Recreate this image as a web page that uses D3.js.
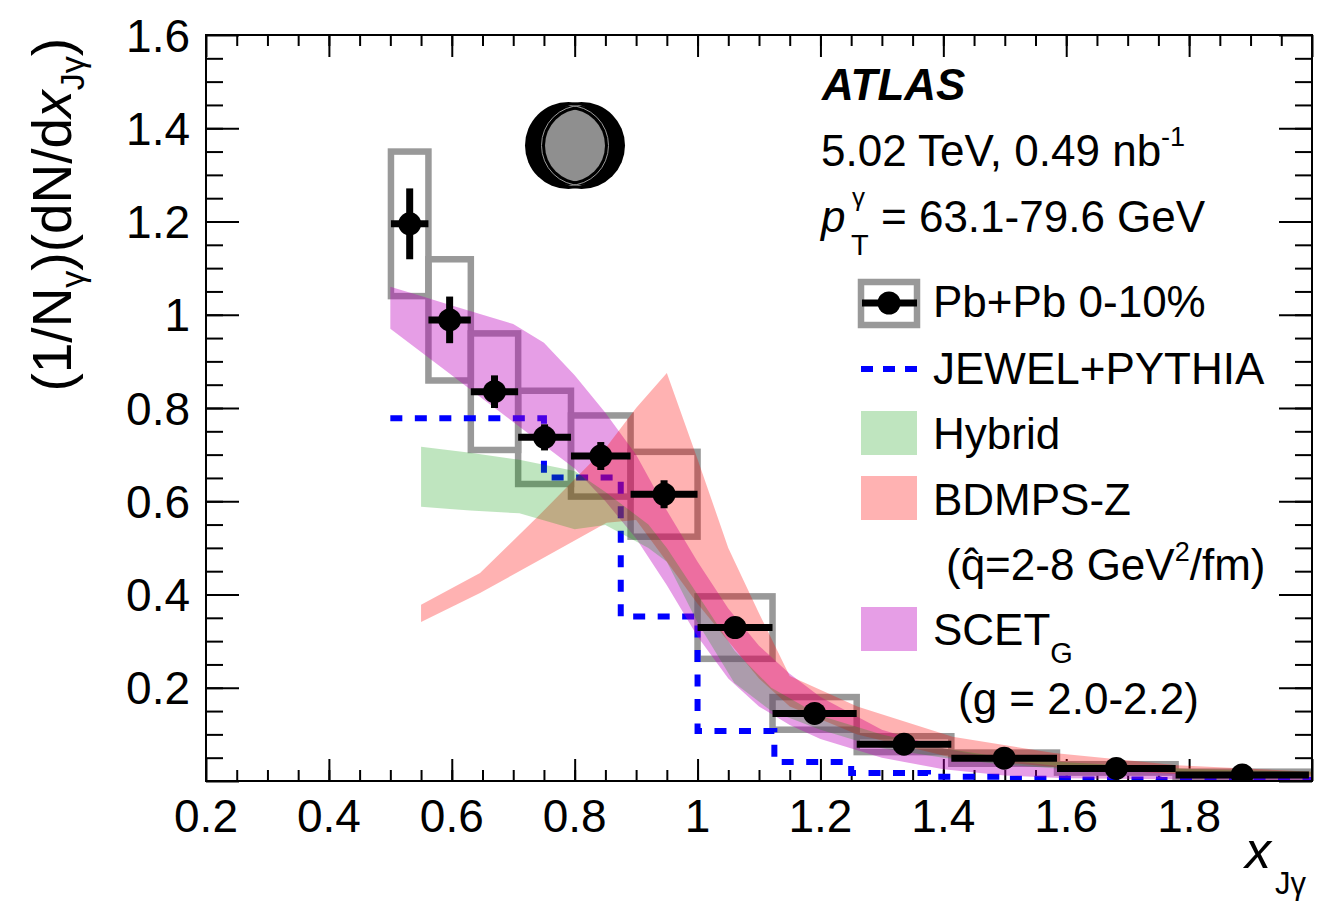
<!DOCTYPE html>
<html>
<head>
<meta charset="utf-8">
<script src="https://cdn.jsdelivr.net/npm/d3@7"></script>
<style>
  body { margin: 0; background: #fff; }
  text { font-family: "Liberation Sans", Arial, Helvetica, sans-serif; fill: #000; }
</style>
</head>
<body>
<div id="my_dataviz"></div>
<script>
// ---- data ----
// Pb+Pb 0-10% (log-spaced x_Jgamma bins)
var binEdges = [0.501, 0.562, 0.631, 0.708, 0.794, 0.891, 1.0, 1.122, 1.259, 1.413, 1.585, 1.778, 1.995];
var pbpbVals = [1.195, 0.989, 0.835, 0.737, 0.697, 0.615, 0.329, 0.145, 0.079, 0.049, 0.027, 0.013];
var pbpbStat = [0.076, 0.050, 0.035, 0.028, 0.030, 0.030, 0.020, 0.010, 0.005, 0.004, 0.003, 0.002];
var pbpbSyst = [0.155, 0.130, 0.125, 0.100, 0.087, 0.091, 0.067, 0.035, 0.017, 0.012, 0.009, 0.007];

// JEWEL+PYTHIA histogram
var jewelEdges = [0.5, 0.625, 0.75, 0.875, 1.0, 1.125, 1.25, 1.375, 1.5, 1.625, 1.75, 1.875, 2.0];
var jewelVals  = [0.778, 0.778, 0.651, 0.353, 0.107, 0.041, 0.017, 0.009, 0.005, 0.003, 0.002, 0.002];

// Hybrid band
var hybridX  = [0.55, 0.63, 0.71, 0.80, 0.85, 0.92, 0.95, 1.00, 1.06, 1.12, 1.20, 1.30, 1.40, 1.50, 1.60, 1.80, 2.00];
var hybridHi = [0.717, 0.704, 0.689, 0.665, 0.62, 0.55, 0.50, 0.40, 0.28, 0.20, 0.14, 0.10, 0.07, 0.05, 0.04, 0.026, 0.02];
var hybridLo = [0.588, 0.580, 0.574, 0.540, 0.549, 0.50, 0.47, 0.34, 0.21, 0.15, 0.11, 0.07, 0.05, 0.035, 0.025, 0.018, 0.014];

// BDMPS-Z band
var bdmpsX  = [0.55, 0.646, 0.743, 0.852, 0.90, 0.95, 1.00, 1.05, 1.10, 1.15, 1.26, 1.415, 1.58, 1.78, 2.00];
var bdmpsHi = [0.378, 0.446, 0.571, 0.717, 0.80, 0.875, 0.69, 0.50, 0.36, 0.225, 0.16, 0.095, 0.06, 0.034, 0.02];
var bdmpsLo = [0.341, 0.403, 0.474, 0.554, 0.56, 0.47, 0.38, 0.30, 0.22, 0.16, 0.10, 0.05, 0.03, 0.015, 0.01];

// SCET_G band
var scetX  = [0.50, 0.55, 0.60, 0.65, 0.70, 0.75, 0.80, 0.85, 0.90, 0.95, 1.00, 1.05, 1.10, 1.15, 1.20, 1.30, 1.40, 1.50, 1.60, 1.80, 2.00];
var scetHi = [1.06, 1.04, 1.02, 1.00, 0.98, 0.94, 0.87, 0.79, 0.70, 0.58, 0.47, 0.37, 0.29, 0.23, 0.18, 0.11, 0.07, 0.045, 0.03, 0.015, 0.008];
var scetLo = [0.97, 0.92, 0.87, 0.82, 0.77, 0.72, 0.67, 0.60, 0.52, 0.42, 0.31, 0.22, 0.16, 0.12, 0.09, 0.05, 0.025, 0.012, 0.006, 0.003, 0.002];

// tick labels
var xTickVals = [0.2, 0.4, 0.6, 0.8, 1.0, 1.2, 1.4, 1.6, 1.8];
var xTickLabels = ["0.2", "0.4", "0.6", "0.8", "1", "1.2", "1.4", "1.6", "1.8"];
var yTickVals = [0.2, 0.4, 0.6, 0.8, 1.0, 1.2, 1.4, 1.6];
var yTickLabels = ["0.2", "0.4", "0.6", "0.8", "1", "1.2", "1.4", "1.6"];

// colours
var cGreen = "rgb(0,150,0)", aGreen = 0.25;
var cRed = "rgb(255,0,0)", aRed = 0.30;
var cMag = "rgb(190,0,190)", aMag = 0.38;

// set the dimensions and margins of the graph
var margin = {top: 35, right: 7, bottom: 127, left: 206},
    width = 1319 - margin.left - margin.right,
    height = 908 - margin.top - margin.bottom;

var svg = d3.select("#my_dataviz")
  .append("svg")
    .attr("width", 1319)
    .attr("height", 908);

var g = svg.append("g")
    .attr("transform", "translate(" + margin.left + "," + margin.top + ")");

var x = d3.scaleLinear().domain([0.2, 2.0]).range([0, width]);
var y = d3.scaleLinear().domain([0, 1.6]).range([height, 0]);

g.append("clipPath").attr("id", "plotclip")
  .append("rect").attr("width", width).attr("height", height);

// ticks on all four sides, pointing inward
var majorX = d3.range(0.2, 2.001, 0.2), minorX = d3.range(0.25, 2.0, 0.05);
var majorY = d3.range(0, 1.601, 0.2), minorY = d3.range(0.05, 1.6, 0.05);
function ticks(axis, tr, vals, len) {
  g.append("g").attr("transform", tr)
    .call(axis.tickValues(vals).tickSize(-len).tickFormat(""))
    .call(function(s) { s.select(".domain").remove(); s.selectAll("line").attr("stroke", "#000").attr("stroke-width", 2); });
}
ticks(d3.axisBottom(x), "translate(0," + height + ")", minorX, 11);
ticks(d3.axisBottom(x), "translate(0," + height + ")", majorX, 22);
ticks(d3.axisTop(x), "translate(0,0)", minorX, 11);
ticks(d3.axisTop(x), "translate(0,0)", majorX, 22);
ticks(d3.axisLeft(y), "translate(0,0)", minorY, 17);
ticks(d3.axisLeft(y), "translate(0,0)", majorY, 33);
ticks(d3.axisRight(y), "translate(" + width + ",0)", minorY, 17);
ticks(d3.axisRight(y), "translate(" + width + ",0)", majorY, 33);

// tick labels
g.selectAll(".xlab").data(xTickVals).enter().append("text")
  .attr("x", function(d) { return x(d); })
  .attr("y", height + 51)
  .attr("text-anchor", "middle")
  .style("font-size", "46px")
  .text(function(d, i) { return xTickLabels[i]; });
g.selectAll(".ylab").data(yTickVals).enter().append("text")
  .attr("x", -16)
  .attr("y", function(d) { return y(d); })
  .attr("dy", "0.36em")
  .attr("text-anchor", "end")
  .style("font-size", "46px")
  .text(function(d, i) { return yTickLabels[i]; });

var plot = g.append("g").attr("clip-path", "url(#plotclip)");

// systematic boxes
var pts = pbpbVals.map(function(v, i) {
  return {lo: binEdges[i], hi: binEdges[i + 1], xc: (binEdges[i] + binEdges[i + 1]) / 2,
          v: v, st: pbpbStat[i], sy: pbpbSyst[i]};
});
plot.selectAll(".sys").data(pts).enter().append("rect")
  .attr("x", function(d) { return x(d.lo); })
  .attr("width", function(d) { return x(d.hi) - x(d.lo); })
  .attr("y", function(d) { return y(d.v + d.sy); })
  .attr("height", function(d) { return y(d.v - d.sy) - y(d.v + d.sy); })
  .attr("fill", "none")
  .attr("stroke", "#999")
  .attr("stroke-width", 6.5);

// JEWEL+PYTHIA dashed histogram
var jewelPts = [];
jewelVals.forEach(function(v, i) {
  jewelPts.push([jewelEdges[i], v]);
  jewelPts.push([jewelEdges[i + 1], v]);
});
plot.append("path")
  .datum(jewelPts)
  .attr("d", d3.line().x(function(d) { return x(d[0]); }).y(function(d) { return y(d[1]); }))
  .attr("fill", "none")
  .attr("stroke", "#0000ff")
  .attr("stroke-width", 6)
  .attr("stroke-dasharray", "12,12.5");

// theory bands
function band(xs, lo, hi, col, op) {
  var data = xs.map(function(d, i) { return {x: d, lo: lo[i], hi: hi[i]}; });
  plot.append("path")
    .datum(data)
    .attr("d", d3.area()
      .x(function(d) { return x(d.x); })
      .y0(function(d) { return y(d.lo); })
      .y1(function(d) { return y(d.hi); }))
    .attr("fill", col)
    .attr("fill-opacity", op);
}
band(scetX, scetLo, scetHi, cMag, aMag);
band(bdmpsX, bdmpsLo, bdmpsHi, cRed, aRed);
band(hybridX, hybridLo, hybridHi, cGreen, aGreen);

// data points with stat errors
var pg = plot.selectAll(".pt").data(pts).enter().append("g");
pg.append("line")
  .attr("x1", function(d) { return x(d.lo); })
  .attr("x2", function(d) { return x(d.hi); })
  .attr("y1", function(d) { return y(d.v); })
  .attr("y2", function(d) { return y(d.v); })
  .attr("stroke", "#000").attr("stroke-width", 7);
pg.append("line")
  .attr("x1", function(d) { return x(d.xc); })
  .attr("x2", function(d) { return x(d.xc); })
  .attr("y1", function(d) { return y(d.v + d.st); })
  .attr("y2", function(d) { return y(d.v - d.st); })
  .attr("stroke", "#000").attr("stroke-width", 7);
pg.append("circle")
  .attr("cx", function(d) { return x(d.xc); })
  .attr("cy", function(d) { return y(d.v); })
  .attr("r", 11.5)
  .attr("fill", "#000");

// frame
g.append("rect")
  .attr("width", width).attr("height", height)
  .attr("fill", "none").attr("stroke", "#000").attr("stroke-width", 2);

// axis titles
var xt = svg.append("text")
  .attr("x", 1306).attr("y", 868)
  .attr("text-anchor", "end")
  .style("font-size", "52px");
xt.append("tspan").style("font-style", "italic").text("x");
xt.append("tspan").attr("dy", 26).attr("dx", 4).style("font-size", "31px").text("Jγ");

var yt = svg.append("text")
  .attr("transform", "translate(71,38) rotate(-90)")
  .attr("text-anchor", "end")
  .style("font-size", "55px");
yt.append("tspan").text("(1/N");
yt.append("tspan").attr("dy", 13).style("font-size", "34px").text("γ");
yt.append("tspan").attr("dy", -13).text(")(dN/d");
yt.append("tspan").style("font-style", "italic").text("x");
yt.append("tspan").attr("dy", 13).style("font-size", "34px").text("Jγ");
yt.append("tspan").attr("dy", -13).text(")");

// ATLAS label and run info
svg.append("text").attr("x", 822).attr("y", 100)
  .style("font-size", "44px").style("font-weight", "bold").style("font-style", "italic")
  .text("ATLAS");
var t1 = svg.append("text").attr("x", 821).attr("y", 166).style("font-size", "44px");
t1.append("tspan").text("5.02 TeV, 0.49 nb");
t1.append("tspan").attr("dy", -20).style("font-size", "27px").text("-1");

svg.append("text").attr("x", 821).attr("y", 232).style("font-size", "44px")
  .style("font-style", "italic").text("p");
svg.append("text").attr("x", 852).attr("y", 206).style("font-size", "26px").text("γ");
svg.append("text").attr("x", 851).attr("y", 255).style("font-size", "29px").text("T");
svg.append("text").attr("x", 881).attr("y", 232).style("font-size", "44px").text("= 63.1-79.6 GeV");

// collision symbol
var sym = svg.append("g");
var cxs = [568.5, 581.5];
var defs = svg.append("defs");
defs.append("clipPath").attr("id", "lensA").append("circle").attr("cx", cxs[0]).attr("cy", 145.5).attr("r", 36.5);
defs.append("clipPath").attr("id", "lensA2").append("circle").attr("cx", cxs[0]).attr("cy", 145.5).attr("r", 42);
defs.append("clipPath").attr("id", "lensB2").append("circle").attr("cx", cxs[1]).attr("cy", 145.5).attr("r", 42);
cxs.forEach(function(c) {
  sym.append("circle").attr("cx", c).attr("cy", 145.5).attr("r", 43.5).attr("fill", "#000");
});
sym.append("circle").attr("cx", cxs[1]).attr("cy", 145.5).attr("r", 36.5)
  .attr("fill", "#8f8f8f").attr("clip-path", "url(#lensA)");
sym.append("circle").attr("cx", cxs[1]).attr("cy", 145.5).attr("r", 40)
  .attr("fill", "none").attr("stroke", "#999").attr("stroke-width", 1)
  .attr("clip-path", "url(#lensA2)");
sym.append("circle").attr("cx", cxs[0]).attr("cy", 145.5).attr("r", 40)
  .attr("fill", "none").attr("stroke", "#999").attr("stroke-width", 1)
  .attr("clip-path", "url(#lensB2)");

// legend
var lg = svg.append("g");
lg.append("rect").attr("x", 861).attr("y", 282).attr("width", 56).attr("height", 43)
  .attr("fill", "none").attr("stroke", "#999").attr("stroke-width", 6.5);
lg.append("line").attr("x1", 862).attr("x2", 917).attr("y1", 303).attr("y2", 303)
  .attr("stroke", "#000").attr("stroke-width", 7);
lg.append("circle").attr("cx", 889).attr("cy", 303).attr("r", 11.5).attr("fill", "#000");
lg.append("line").attr("x1", 861).attr("x2", 917).attr("y1", 369).attr("y2", 369)
  .attr("stroke", "#0000ff").attr("stroke-width", 6).attr("stroke-dasharray", "12,10");
lg.append("rect").attr("x", 861).attr("y", 411).attr("width", 56).attr("height", 44)
  .attr("fill", cGreen).attr("fill-opacity", aGreen);
lg.append("rect").attr("x", 861).attr("y", 476).attr("width", 56).attr("height", 44)
  .attr("fill", cRed).attr("fill-opacity", aRed);
lg.append("rect").attr("x", 861).attr("y", 607).attr("width", 56).attr("height", 44)
  .attr("fill", cMag).attr("fill-opacity", aMag);

function ltext(xp, yp, s) {
  return lg.append("text").attr("x", xp).attr("y", yp).style("font-size", "44px").text(s);
}
ltext(933, 317, "Pb+Pb 0-10%");
ltext(933, 384, "JEWEL+PYTHIA");
ltext(933, 449, "Hybrid");
ltext(933, 515, "BDMPS-Z");
var q = lg.append("text").attr("x", 946).attr("y", 580).style("font-size", "44px");
q.append("tspan").text("(q\u0302=2-8 GeV");
q.append("tspan").attr("dy", -19).style("font-size", "27px").text("2");
q.append("tspan").attr("dy", 19).text("/fm)");
var sc = lg.append("text").attr("x", 933).attr("y", 645).style("font-size", "44px");
sc.append("tspan").text("SCET");
sc.append("tspan").attr("dy", 18).style("font-size", "29px").text("G");
ltext(958, 714, "(g = 2.0-2.2)");
</script>
</body>
</html>
